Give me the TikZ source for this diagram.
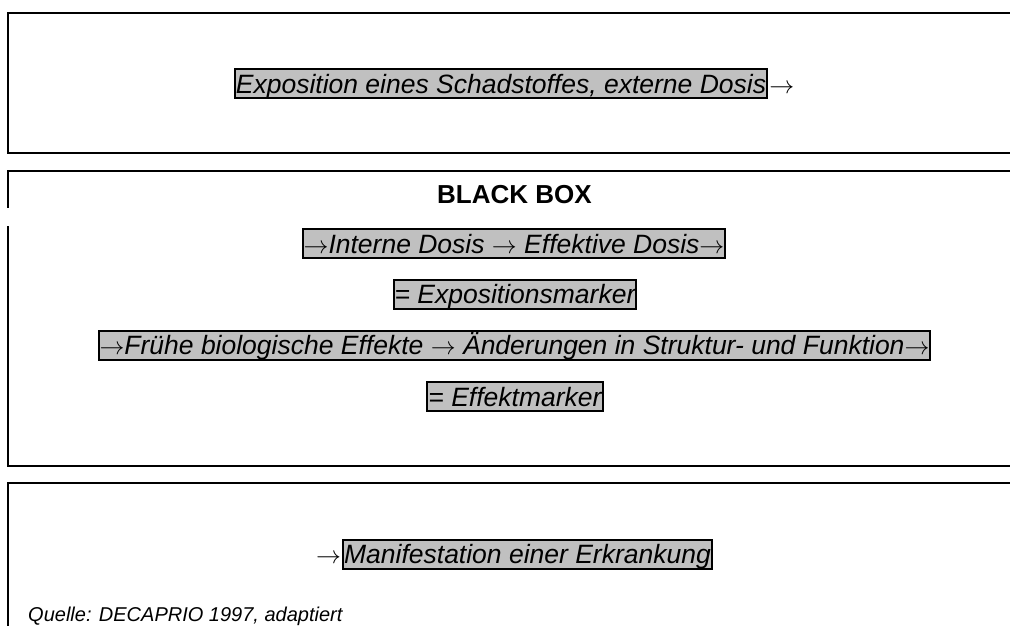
\documentclass[tikz,border=0pt]{standalone}
\usepackage{fontspec}
\setmainfont{Liberation Sans}
\definecolor{boxgray}{HTML}{C0C0C0}
\tikzset{
  boxline/.style={line width=2pt},
  marker/.style={draw,line width=2pt,fill=boxgray,inner xsep=1pt,inner ysep=0pt,
    text height=24pt,text depth=5pt,font=\fontsize{26.5}{30}\selectfont\itshape},
  arrowtext/.style={inner sep=0pt,font=\fontsize{26.5}{30}\selectfont},
}

\begin{document}
\begin{tikzpicture}[x=1pt,y=-1pt]
\useasboundingbox (0,0) rectangle (1010,626);

% frames
\draw [boxline] (1010,13) -- (8,13) -- (8,153) -- (1010,153);
\draw [boxline] (1010,171) -- (8,171) -- (8,208);
\draw [boxline] (8,226) -- (8,466) -- (1010,466);
\draw [boxline] (1010,483) -- (8,483) -- (8,626);

% top
\node [marker] (expo) at (501,83.5) {Exposition eines Schadstoffes, externe Dosis};
\node [arrowtext,anchor=base west] (expoarr) at ([xshift=1pt]expo.base east) {$\rightarrow$};

% black box
\node [font=\fontsize{26}{30}\selectfont\bfseries,inner sep=0pt,anchor=base] (bbox) at (514.5,203) {BLACK BOX};
\node [marker] (intern) at (514,243.5) {$\rightarrow$Interne Dosis $\rightarrow$ Effektive Dosis$\rightarrow$};
\node [marker] (expomark) at (515,294) {= Expositionsmarker};
\node [marker] (frueh) at (514.5,345) {$\rightarrow$Frühe biologische Effekte $\rightarrow$ Änderungen in Struktur- und Funktion$\rightarrow$};
\node [marker] (effmark) at (515,396.5) {= Effektmarker};

% bottom
\node [marker] (manif) at (527.5,554) {Manifestation einer Erkrankung};
\node [arrowtext,anchor=base east] (manifarr) at ([xshift=-1pt]manif.base west) {$\rightarrow$};
\node [font=\fontsize{20}{24}\selectfont\itshape,inner sep=0pt,anchor=base west] (quelle) at (28,621)
  {Quelle: DECAPRIO 1997, adaptiert};
\end{tikzpicture}
\end{document}
